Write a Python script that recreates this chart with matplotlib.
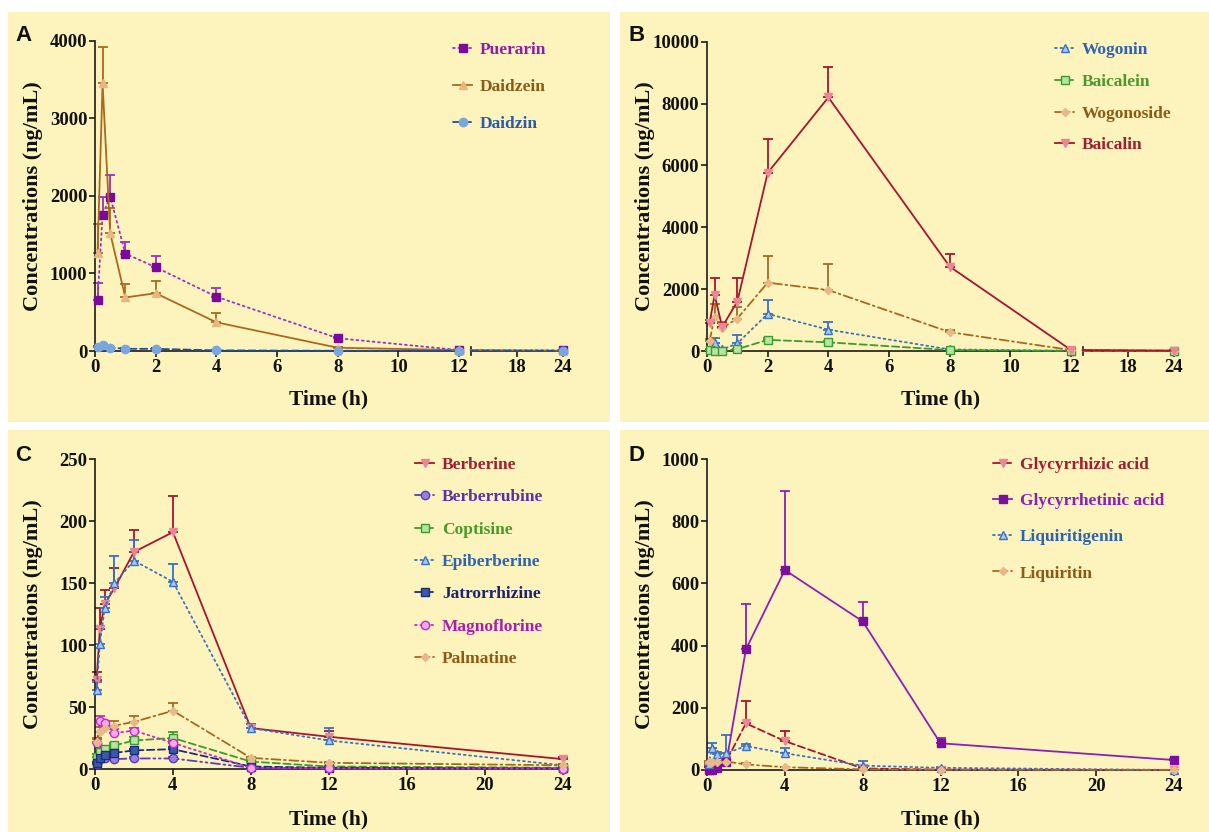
import matplotlib
matplotlib.use("Agg")
import matplotlib.pyplot as plt
from matplotlib.patches import Rectangle
import numpy as np

# ---------------- data ----------------
time_h = [0.083, 0.25, 0.5, 1, 2, 4, 8, 12, 24]

# Panel A
puerarin = [660, 1755, 1990, 1255, 1080, 700, 165, 12, 8]
puerarin_sd = [220, 225, 285, 145, 140, 110, 20, 3, 2]
daidzein = [1265, 3450, 1520, 690, 745, 370, 42, 12, 4]
daidzein_sd = [375, 470, 320, 175, 160, 125, 10, 2, 1]
daidzin = [55, 78, 45, 28, 28, 8, 3, 2, 2]
daidzin_sd = [12, 15, 8, 6, 6, 3, 1, 1, 1]

# Panel B
wogonin = [55, 250, 50, 245, 1200, 690, 50, 5, 3]
wogonin_sd = [20, 160, 15, 270, 450, 250, 20, 2, 1]
baicalein = [30, 10, 5, 60, 360, 280, 30, 5, 3]
baicalein_sd = [10, 5, 3, 15, 60, 40, 8, 2, 1]
wogonoside = [320, 1100, 740, 1050, 2210, 1970, 610, 30, 10]
wogonoside_sd = [80, 420, 210, 360, 870, 840, 60, 5, 3]
baicalin = [890, 1810, 780, 1600, 5760, 8200, 2730, 30, 12]
baicalin_sd = [110, 540, 140, 750, 1080, 990, 410, 10, 5]

# Panel C
berberine = [72, 113, 133, 146, 175, 191, 33, 26, 8]
berberine_sd = [6, 17, 11, 16, 18, 29, 3, 5, 2]
berberrubine = [4, 8, 8.5, 8, 8.5, 8.5, 1, 0.5, 0.3]
berberrubine_sd = [1, 1, 1, 1, 1, 1, 0.3, 0.2, 0.1]
coptisine = [10, 14, 16, 19, 23, 25, 6, 2, 1]
coptisine_sd = [2, 2, 2, 2, 3, 5, 1, 0.5, 0.3]
epiberberine = [64, 101, 130, 150, 168, 151, 33, 23, 3]
epiberberine_sd = [6, 14, 9, 22, 17, 14, 3, 10, 1]
jatrorrhizine = [5, 9, 11, 13, 15, 16, 2, 1, 0.5]
jatrorrhizine_sd = [1, 1, 1, 1, 1.5, 2, 0.5, 0.3, 0.2]
magnoflorine = [21, 39, 37, 29, 31, 21, 1, 0.5, 0.3]
magnoflorine_sd = [3, 4, 2, 3, 2, 2, 0.3, 0.2, 0.1]
palmatine = [22, 30, 33, 35, 38, 47, 9, 5, 3]
palmatine_sd = [3, 4, 3, 4, 5, 6, 1, 1, 0.5]

# Panel D
glycyrrhizic = [10, 20, 15, 30, 150, 93, 5, 1, 0]
glycyrrhizic_sd = [3, 5, 3, 5, 73, 33, 2, 0.5, 0.2]
glycyrrhetinic = [0, 1, 5, 27, 388, 643, 478, 86, 32]
glycyrrhetinic_sd = [0.5, 1, 2, 5, 145, 254, 61, 18, 3]
liquiritigenin = [18, 72, 50, 54, 77, 54, 14, 7, 0]
liquiritigenin_sd = [5, 16, 8, 59, 8, 16, 16, 2, 0.5]
liquiritin = [25, 27, 27, 27, 18, 9, 2, 1, 0.5]
liquiritin_sd = [5, 5, 3, 3, 3, 2, 0.5, 0.3, 0.1]

# ---------------- styles ----------------
DOT = (0, (1, 2))
DASH = (0, (4, 2))
DASHDOT = (0, (5, 2, 1, 2))
DASHDOTDOT = (0, (5, 2, 1, 2, 1, 2))

ST = {
    "Puerarin": dict(lc="#9B30C8", mfc="#7B0A9B", mec="#7B0A9B", m="s", ls=DOT, tc="#8E1EA8"),
    "Daidzein": dict(lc="#A86A1E", mfc="#E8B67E", mec="#E8B67E", m="^", ls="-", tc="#8C5A14"),
    "Daidzin": dict(lc="#1F4E9A", mfc="#7AA6E0", mec="#7AA6E0", m="o", ls=DASH, tc="#2A5AA8"),
    "Wogonin": dict(lc="#3B70C4", mfc="#A9C9EE", mec="#3B70C4", m="^", ls=DOT, tc="#2E63B0"),
    "Baicalein": dict(lc="#3D9B2E", mfc="#B8E3A3", mec="#3D9B2E", m="s", ls=DASH, tc="#4A9A2A"),
    "Wogonoside": dict(lc="#A66A1F", mfc="#E8B88A", mec="#E8B88A", m="D", ls=DASHDOT, tc="#8C5A14"),
    "Baicalin": dict(lc="#A8152E", mfc="#E98698", mec="#E98698", m="v", ls="-", tc="#A01E2E"),
    "Berberrubine": dict(lc="#5B3DB5", mfc="#9B7EDF", mec="#5B3DB5", m="o", ls=DASHDOTDOT, tc="#5533AA"),
    "Jatrorrhizine": dict(lc="#1C2C7C", mfc="#3C5AA6", mec="#1C2C7C", m="s", ls=DASH, tc="#1C2470"),
    "Magnoflorine": dict(lc="#C42AC4", mfc="#F4A8F0", mec="#C42AC4", m="o", ls=DOT, tc="#A81EB0"),
    "Glycyrrhizic acid": dict(lc="#A8152E", mfc="#E98698", mec="#E98698", m="v", ls=DASH, tc="#A01E2E"),
    "Glycyrrhetinic acid": dict(lc="#8A20B8", mfc="#7A10A0", mec="#7A10A0", m="s", ls="-", tc="#8A20B8"),
}
ST["Berberine"] = ST["Baicalin"]
ST["Coptisine"] = ST["Baicalein"]
ST["Epiberberine"] = ST["Wogonin"]
ST["Palmatine"] = ST["Wogonoside"]
ST["Liquiritigenin"] = ST["Wogonin"]
ST["Liquiritin"] = ST["Wogonoside"]

SERIF = "Liberation Serif"
BG = "#FDF3BC"
W, H = 1209, 832

fig = plt.figure(figsize=(W / 100, H / 100), dpi=100)
fig.patch.set_facecolor("white")

for (x0, y0, x1, y1) in [(8, 12, 610, 422), (620, 12, 1209, 422),
                         (8, 430, 610, 832), (620, 430, 1209, 832)]:
    fig.patches.append(Rectangle((x0 / W, 1 - y1 / H), (x1 - x0) / W, (y1 - y0) / H,
                                 transform=fig.transFigure, facecolor=BG,
                                 edgecolor="none", zorder=-5))


def px_axes(x0, x1, ytop, ybot):
    ax = fig.add_axes([x0 / W, 1 - ybot / H, (x1 - x0) / W, (ybot - ytop) / H])
    ax.patch.set_alpha(0)
    for s in ["top", "right"]:
        ax.spines[s].set_visible(False)
    for s in ["left", "bottom"]:
        ax.spines[s].set_linewidth(1.2)
        ax.spines[s].set_color("#1a1a1a")
    ax.tick_params(direction="out", length=4, width=1.2, color="#1a1a1a", pad=1.5,
                   labelsize=13.5)
    return ax


def style_ticklabels(ax):
    for lab in ax.get_xticklabels() + ax.get_yticklabels():
        lab.set_fontfamily(SERIF)
        lab.set_fontweight("bold")
        lab.set_color("#111111")


def draw(ax, x, y, sd, name, sel=None, markevery=None, errs=True):
    s = ST[name]
    x = np.asarray(x, float)
    y = np.asarray(y, float)
    sd = np.asarray(sd, float)
    if sel is not None:
        x, y, sd = x[sel], y[sel], sd[sel]
    line, = ax.plot(x, y, color=s["lc"], ls=s["ls"], lw=1.3, marker=s["m"],
                    ms=6 if s["m"] != "D" else 4.5, mfc=s["mfc"], mec=s["mec"], mew=1.0,
                    markevery=markevery, clip_on=False, zorder=3, label=name,
                    dash_capstyle="round")
    if errs:
        idx = range(len(x)) if markevery is None else markevery
        for i in idx:
            ax.errorbar([x[i]], [y[i]], yerr=[[0], [sd[i]]], fmt="none", ecolor=s["lc"],
                        elinewidth=1.3, capsize=3.5, capthick=1.3, clip_on=False, zorder=2)
    return line


def legend(ax, handles, names, anchor, spacing):
    leg = ax.legend(handles, names, loc="upper left", bbox_to_anchor=anchor,
                    bbox_transform=fig.transFigure, frameon=False, borderpad=0,
                    borderaxespad=0, handlelength=1.1, handletextpad=0.45,
                    labelspacing=spacing,
                    prop=dict(family=SERIF, weight="bold", size=12.5))
    for t, n in zip(leg.get_texts(), names):
        t.set_color(ST[n]["tc"])
    return leg


def ylabel(ax, xr):
    ax.set_ylabel("Concentrations (ng/mL)", fontfamily=SERIF, fontweight="bold",
                  fontsize=16, color="#111111")
    ax.yaxis.set_label_coords(xr, 0.5)


def xlabel(xc, ytop):
    fig.text(xc / W, 1 - ytop / H, "Time (h)", ha="center", va="top", fontfamily=SERIF,
             fontweight="bold", fontsize=15.5, color="#111111")


def letter(x, y, s):
    fig.text(x / W, 1 - y / H, s, ha="left", va="top", fontfamily="Liberation Sans",
             fontweight="bold", fontsize=16, color="#111111")


def broken_panel(xl, xb0, x2r, ytop, ybot, ymax, ystep, series):
    ax1 = px_axes(xl, xb0, ytop, ybot)
    ax1.set_xlim(0, 12 * (1 + 0.13 / 12))
    ax1.set_ylim(0, ymax)
    ax1.set_xticks([0, 2, 4, 6, 8, 10, 12])
    ax1.set_yticks(np.arange(0, ymax + 1, ystep))
    x2l = xb0 + 7.7
    ax2 = px_axes(x2l, x2r, ytop, ybot)
    ax2.set_xlim(12, 24)
    ax2.set_ylim(0, ymax)
    ax2.set_xticks([18, 24])
    ax2.spines["left"].set_visible(False)
    ax2.tick_params(axis="y", left=False, labelleft=False)
    ax2.plot([0, 0], [-0.013, 0.013], transform=ax2.transAxes, color="#1a1a1a", lw=1.2,
             clip_on=False)
    handles = []
    for vals, sd, name in series:
        h = draw(ax1, time_h, vals, sd, name, sel=slice(0, 8))
        draw(ax2, time_h, vals, sd, name, sel=slice(7, 9), markevery=[1])
        handles.append(h)
    style_ticklabels(ax1)
    style_ticklabels(ax2)
    return ax1, ax2, handles


# ---------------- Panel A ----------------
serA = [(puerarin, puerarin_sd, "Puerarin"), (daidzein, daidzein_sd, "Daidzein"),
        (daidzin, daidzin_sd, "Daidzin")]
a1, a2, hA = broken_panel(95, 463, 562.7, 40.7, 351, 4000, 1000, serA)
ylabel(a1, (42.5 - 95) / 368)
xlabel(329, 389)
letter(15, 25, "A")
legend(a1, hA, [s[2] for s in serA], (453 / W, 1 - 42 / H), 1.2)

# ---------------- Panel B ----------------
serB = [(wogonin, wogonin_sd, "Wogonin"), (baicalein, baicalein_sd, "Baicalein"),
        (wogonoside, wogonoside_sd, "Wogonoside"), (baicalin, baicalin_sd, "Baicalin")]
b1, b2, hB = broken_panel(707, 1075, 1174, 41.7, 351, 10000, 2000, serB)
ylabel(b1, (655 - 707) / 368)
xlabel(941, 389)
letter(628, 25, "B")
legend(b1, hB, [s[2] for s in serB], (1055 / W, 1 - 42 / H), 0.9)

# ---------------- Panel C ----------------
c = px_axes(95, 562.5, 459, 769)
c.set_xlim(0, 24)
c.set_ylim(0, 250)
c.set_xticks(np.arange(0, 25, 4))
c.set_yticks(np.arange(0, 251, 50))
serC = [(berberine, berberine_sd, "Berberine"), (berberrubine, berberrubine_sd, "Berberrubine"),
        (coptisine, coptisine_sd, "Coptisine"), (epiberberine, epiberberine_sd, "Epiberberine"),
        (jatrorrhizine, jatrorrhizine_sd, "Jatrorrhizine"),
        (magnoflorine, magnoflorine_sd, "Magnoflorine"), (palmatine, palmatine_sd, "Palmatine")]
hC = [draw(c, time_h, v, sd, n) for v, sd, n in serC]
style_ticklabels(c)
ylabel(c, (42.5 - 95) / 467.5)
xlabel(329, 809)
letter(15, 445, "C")
legend(c, hC, [s[2] for s in serC], (415 / W, 1 - 457 / H), 0.93)

# ---------------- Panel D ----------------
d = px_axes(707, 1174, 459, 770)
d.set_xlim(0, 24)
d.set_ylim(0, 1000)
d.set_xticks(np.arange(0, 25, 4))
d.set_yticks(np.arange(0, 1001, 200))
serD = [(glycyrrhizic, glycyrrhizic_sd, "Glycyrrhizic acid"),
        (glycyrrhetinic, glycyrrhetinic_sd, "Glycyrrhetinic acid"),
        (liquiritigenin, liquiritigenin_sd, "Liquiritigenin"),
        (liquiritin, liquiritin_sd, "Liquiritin")]
hD = [draw(d, time_h, v, sd, n) for v, sd, n in serD]
style_ticklabels(d)
ylabel(d, (655 - 707) / 467)
xlabel(941, 809)
letter(628, 445, "D")
legend(d, hD, [s[2] for s in serD], (993 / W, 1 - 457 / H), 1.15)

fig.savefig("out.png", dpi=100, facecolor="white")
